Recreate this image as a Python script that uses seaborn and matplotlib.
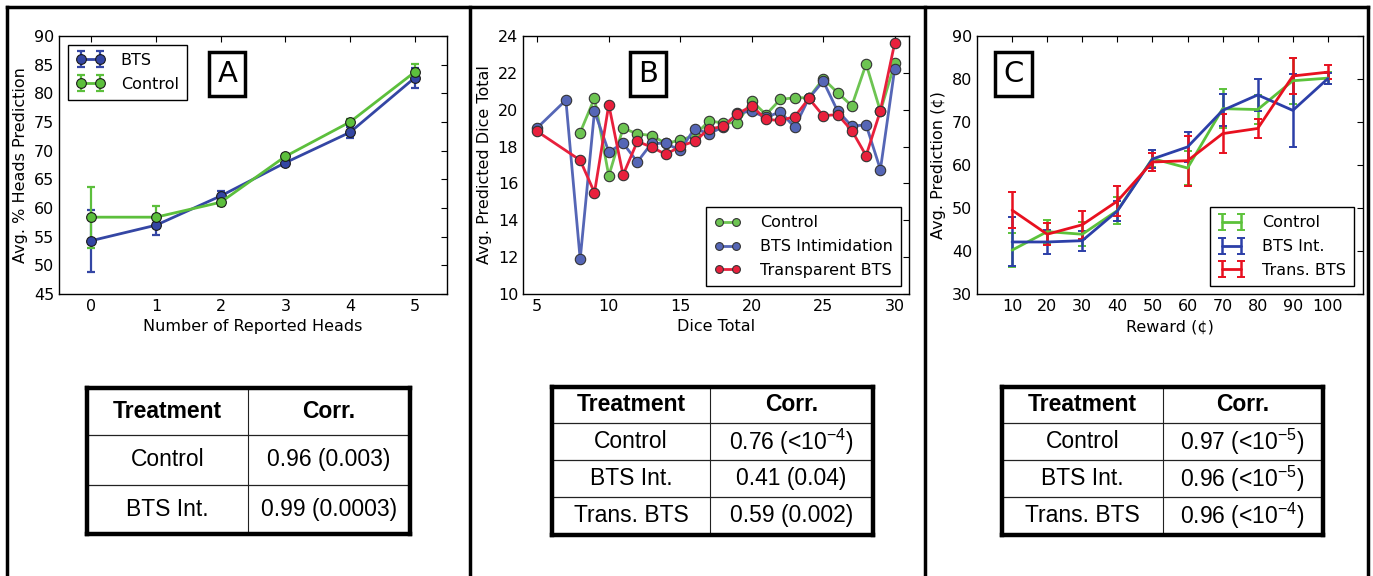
import numpy as np
import pandas as pd
import matplotlib
matplotlib.use("Agg")
import matplotlib.pyplot as plt
import seaborn as sns
from matplotlib.lines import Line2D
from matplotlib.legend_handler import HandlerTuple

# ---------------- data ----------------
# Panel A
heads = [0, 1, 2, 3, 4, 5]
a_bts = [54.3, 57.0, 62.1, 67.9, 73.2, 82.7]
a_bts_err = [5.4, 1.7, 0.9, 0.5, 1.0, 1.8]
a_ctrl = [58.4, 58.4, 61.0, 69.0, 75.0, 83.7]
a_ctrl_err = [5.3, 1.9, 0.7, 0.4, 0.6, 1.5]

# Panel B
b_ctrl_x = list(range(8, 31))
b_ctrl = [18.76, 20.63, 16.41, 19.0, 18.69, 18.60, 18.17, 18.35, 18.6, 19.38,
          19.29, 19.29, 20.47, 19.74, 20.56, 20.65, 20.65, 21.68, 20.93, 20.21,
          22.48, 19.92, 22.51]
b_bts_x = [5, 7] + list(range(8, 31))
b_bts = [19.02, 20.52, 11.88, 19.91, 17.71, 18.18, 17.17, 18.18, 18.17, 17.79,
         18.98, 18.69, 19.07, 19.83, 19.91, 19.58, 19.89, 19.05, 20.63, 21.55,
         19.94, 19.11, 19.18, 16.75, 22.22]
b_tr_x = [5] + list(range(8, 31))
b_tr = [18.82, 17.26, 15.50, 20.27, 16.46, 18.28, 17.97, 17.57, 18.02, 18.29,
        18.95, 19.09, 19.78, 20.20, 19.47, 19.42, 19.62, 20.61, 19.67, 19.74,
        18.87, 17.51, 19.94, 23.62]

# Panel C
reward = [10, 20, 30, 40, 50, 60, 70, 80, 90, 100]
c_ctrl = [40.2, 44.5, 43.9, 49.4, 61.5, 59.3, 73.1, 72.9, 79.6, 80.2]
c_ctrl_err = [4.0, 2.8, 2.8, 3.2, 2.0, 4.0, 4.6, 3.3, 5.3, 1.4]
c_bts = [42.1, 42.1, 42.4, 49.3, 61.4, 64.2, 72.7, 76.3, 72.7, 80.1]
c_bts_err = [5.7, 2.9, 2.3, 2.4, 2.0, 3.4, 3.7, 3.7, 8.4, 1.3]
c_tr = [49.5, 43.9, 46.1, 51.6, 60.7, 61.0, 67.3, 68.5, 80.7, 81.6]
c_tr_err = [4.2, 2.6, 3.3, 3.5, 2.0, 5.8, 4.5, 2.3, 4.2, 1.7]

# Tables
tab_header = ["Treatment", "Corr."]
tab_a_rows = ["Control", "BTS Int."]
tab_a_vals = ["0.96 (0.003)", "0.99 (0.0003)"]
tab_bc_rows = ["Control", "BTS Int.", "Trans. BTS"]
tab_b_vals = [r"0.76 (<10$^{\mathregular{-4}}$)", "0.41 (0.04)", "0.59 (0.002)"]
tab_c_vals = [r"0.97 (<10$^{\mathregular{-5}}$)", r"0.96 (<10$^{\mathregular{-5}}$)",
              r"0.96 (<10$^{\mathregular{-4}}$)"]

# ---------------- style ----------------
sns.set_style("white")
plt.rcParams.update({
    "font.family": ["DejaVu Sans"],
    "font.size": 11.5,
    "xtick.direction": "in", "ytick.direction": "in",
    "xtick.top": True, "ytick.right": True,
    "xtick.major.size": 4.5, "ytick.major.size": 4.5,
    "xtick.major.width": 0.8, "ytick.major.width": 0.8,
    "xtick.color": "black", "ytick.color": "black",
    "axes.edgecolor": "black", "axes.linewidth": 1.0,
    "axes.labelcolor": "black", "text.color": "black",
    "mathtext.fontset": "custom",
    "mathtext.rm": "Liberation Sans",
    "legend.fontsize": 11.5,
})

W, H = 1373, 576
fig = plt.figure(figsize=(W / 100, H / 100), dpi=100)
fig.patch.set_facecolor("white")


def ax_at(l, t, r, b):
    return fig.add_axes([l / W, 1 - b / H, (r - l) / W, (b - t) / H])


GREEN_A, BLUE_A = "#5cbf3c", "#3446a4"
GREEN_B, BLUE_B, RED_B = "#6dc452", "#5566b6", "#e8203c"
GREEN_C, BLUE_C, RED_C = "#5cc23a", "#2c3fa8", "#e8101f"


def panel_label(ax, txt, x, y):
    ax.text(x, y, txt, transform=ax.transAxes, fontsize=21, ha="center",
            va="center", zorder=10,
            bbox=dict(boxstyle="square,pad=0.28", fc="white", ec="black", lw=2.5))


def style_legend(leg):
    fr = leg.get_frame()
    fr.set_edgecolor("black")
    fr.set_linewidth(1.0)
    fr.set_boxstyle("square", pad=0)


overlay = {tuple: HandlerTuple(ndivide=1, pad=0)}

# ---------------- Panel A ----------------
axA = ax_at(59, 36, 447, 294)
handles = []
for y, e, c, lab in [(a_bts, a_bts_err, BLUE_A, "BTS"),
                     (a_ctrl, a_ctrl_err, GREEN_A, "Control")]:
    sns.lineplot(x=heads, y=y, ax=axA, color=c, lw=2, marker="o", ms=7,
                 mec="#1a1a1a", mew=0.8, legend=False, zorder=3)
    ln = axA.get_lines()[-1]
    eb = axA.errorbar(heads, y, yerr=e, fmt="none", ecolor=c, elinewidth=1.6,
                      capsize=3, capthick=1.6, zorder=2)
    handles.append(((eb, ln), lab))
axA.set_xlim(-0.5, 5.5)
axA.set_ylim(45, 90)
axA.set_xticks(heads)
axA.set_yticks(np.arange(45, 91, 5))
axA.set_xlabel("Number of Reported Heads")
axA.set_ylabel("Avg. % Heads Prediction")
leg = axA.legend([h for h, _ in handles], [l for _, l in handles],
                 handler_map=overlay,
                 loc="upper left", bbox_to_anchor=(0.023, 0.965),
                 borderaxespad=0, numpoints=2, handlelength=1.8,
                 handletextpad=1.0, fancybox=False, framealpha=1,
                 borderpad=0.5, labelspacing=0.55)
style_legend(leg)
panel_label(axA, "A", 0.434, 0.853)

# ---------------- Panel B ----------------
axB = ax_at(523, 36, 909, 294)
for xs, ys, c, lab in [(b_ctrl_x, b_ctrl, GREEN_B, "Control"),
                       (b_bts_x, b_bts, BLUE_B, "BTS Intimidation"),
                       (b_tr_x, b_tr, RED_B, "Transparent BTS")]:
    sns.lineplot(x=xs, y=ys, ax=axB, color=c, lw=2, marker="o", ms=7.5,
                 mec="#333333", mew=0.8, label=lab, sort=False)
axB.set_xlim(4, 31)
axB.set_ylim(10, 24)
axB.set_xticks(np.arange(5, 31, 5))
axB.set_yticks(np.arange(10, 25, 2))
axB.set_xlabel("Dice Total")
axB.set_ylabel("Avg. Predicted Dice Total", labelpad=4)
leg = axB.legend(loc="lower right", bbox_to_anchor=(0.979, 0.031),
                 borderaxespad=0, numpoints=2, handlelength=1.7,
                 handletextpad=1.2, markerscale=0.75, fancybox=False,
                 framealpha=1, borderpad=0.5, labelspacing=0.55)
style_legend(leg)
panel_label(axB, "B", 0.324, 0.853)

# ---------------- Panel C ----------------
axC = ax_at(977, 36, 1363, 294)
handles = []
for y, e, c, lab in [(c_ctrl, c_ctrl_err, GREEN_C, "Control"),
                     (c_bts, c_bts_err, BLUE_C, "BTS Int."),
                     (c_tr, c_tr_err, RED_C, "Trans. BTS")]:
    sns.lineplot(x=reward, y=y, ax=axC, color=c, lw=2, legend=False, zorder=3)
    ln = axC.get_lines()[-1]
    eb = axC.errorbar(reward, y, yerr=e, fmt="none", ecolor=c, elinewidth=1.8,
                      capsize=3, capthick=1.4, zorder=2)
    handles.append(((eb, ln), lab))
axC.set_xlim(0, 110)
axC.set_ylim(30, 90)
axC.set_xticks(reward)
axC.set_yticks(np.arange(30, 91, 10))
axC.set_xlabel("Reward (¢)")
axC.set_ylabel("Avg. Prediction (¢)")
leg = axC.legend([h for h, _ in handles], [l for _, l in handles],
                 handler_map=overlay,
                 loc="lower right", bbox_to_anchor=(0.977, 0.031),
                 borderaxespad=0, numpoints=2, handlelength=1.8,
                 handletextpad=1.0, fancybox=False, framealpha=1,
                 borderpad=0.5, labelspacing=0.55)
style_legend(leg)
panel_label(axC, "C", 0.0946, 0.853)

for ax in (axA, axB, axC):
    for s in ax.spines.values():
        s.set_visible(True)
        s.set_color("black")
        s.set_linewidth(1.0)


# ---------------- Tables ----------------
def draw_table(box, split, row_lines, rows, vals, body_fs, head_fs):
    l, t, r, b = box
    ax = ax_at(l, t, r, b)
    ax.set_xlim(0, 1)
    ax.set_ylim(1, 0)
    ax.set_xticks([])
    ax.set_yticks([])
    for s in ax.spines.values():
        s.set_visible(True)
        s.set_color("black")
        s.set_linewidth(3.2)
    ax.axvline(split, color="#222222", lw=0.8)
    for rl in row_lines:
        ax.axhline(rl, color="#222222", lw=0.9)
    edges = [0] + list(row_lines) + [1]
    xc = [split / 2, (1 + split) / 2]
    yc = [(edges[i] + edges[i + 1]) / 2 for i in range(len(edges) - 1)]
    for j, h in enumerate(tab_header):
        ax.text(xc[j], yc[0], h, ha="center", va="center", fontsize=head_fs,
                fontweight="bold", family="Liberation Sans")
    for i, (rn, v) in enumerate(zip(rows, vals)):
        ax.text(xc[0], yc[i + 1], rn, ha="center", va="center",
                fontsize=body_fs, family="Liberation Sans")
        ax.text(xc[1], yc[i + 1], v, ha="center", va="center",
                fontsize=body_fs, family="Liberation Sans")


draw_table((87, 388, 410, 534), 0.498, [0.322, 0.664], tab_a_rows, tab_a_vals, 16.5, 16.5)
draw_table((552, 387, 873, 535), 0.492, [0.243, 0.493, 0.743], tab_bc_rows, tab_b_vals, 16.5, 16.5)
draw_table((1002, 387, 1323, 535), 0.5, [0.243, 0.493, 0.743], tab_bc_rows, tab_c_vals, 16.5, 16.5)

# ---------------- panel frames ----------------
frame_kw = dict(color="black", lw=2.5, transform=fig.transFigure, solid_capstyle="projecting")
ytop = 1 - 7 / H
for xpix in [7, 470, 925, 1368]:
    fig.add_artist(Line2D([xpix / W, xpix / W], [-0.05, ytop], **frame_kw))
fig.add_artist(Line2D([7 / W, 1368 / W], [ytop, ytop], **frame_kw))

fig.savefig("out.png", dpi=100, facecolor="white")
